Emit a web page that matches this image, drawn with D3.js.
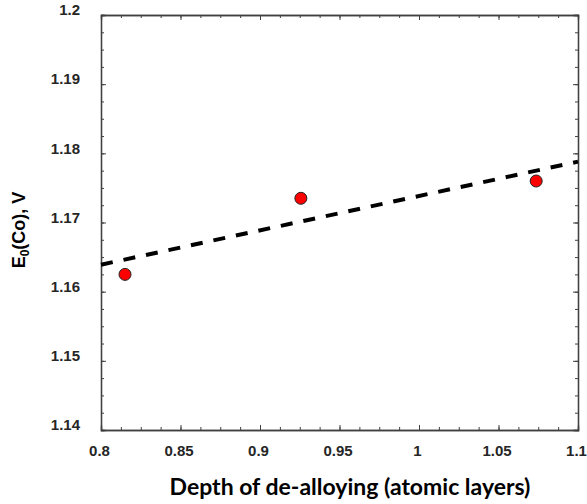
<!DOCTYPE html>
<html>
<head>
<script src="https://d3js.org/d3.v7.min.js"></script>
<style>
  body { margin: 0; background: #fff; }
  svg { display: block; }
  .tick text { font-family: "Liberation Sans", Arial, sans-serif; font-weight: bold; font-size: 15px; fill: #262626; }
</style>
</head>
<body>
<div id="chart"></div>
<script>
// data
var depth = [0.8151, 0.9257, 1.0737];      // de-alloying depth (atomic layers)
var e0 = [1.1625, 1.1735, 1.1760];          // E0(Co), V
var fitX = [0.8, 1.1];                      // linear fit end points
var fitY = [1.1639, 1.1788];
var xTicks = [0.8, 0.85, 0.9, 0.95, 1, 1.05, 1.1];
var yTicks = [1.14, 1.15, 1.16, 1.17, 1.18, 1.19, 1.2];

var width = 587, height = 504;
var margin = {top: 15, right: 9, bottom: 74, left: 101};
var w = width - margin.left - margin.right;
var h = height - margin.top - margin.bottom;

var svg = d3.select("#chart").append("svg")
  .attr("width", width)
  .attr("height", height);

var g = svg.append("g")
  .attr("transform", "translate(" + margin.left + "," + margin.top + ")");

var x = d3.scaleLinear().domain([0.8, 1.1]).range([0, w]);
var y = d3.scaleLinear().domain([1.14, 1.2]).range([h, 0]);

var xMinor = d3.range(0, 25).map(function(i) { return 0.8 + i * 0.0125; });
var yMinor = d3.range(0, 25).map(function(i) { return 1.14 + i * 0.0025; });

var axisColor = "#404040";

function styleAxis(sel) {
  sel.select(".domain").attr("stroke", axisColor).attr("stroke-width", 1.3);
  sel.selectAll(".tick line").attr("stroke", axisColor).attr("stroke-width", 1);
}

// minor ticks, all four sides, pointing inward
g.append("g").attr("transform", "translate(0," + h + ")")
  .call(d3.axisBottom(x).tickValues(xMinor).tickSize(-3).tickFormat(""))
  .call(styleAxis);
g.append("g")
  .call(d3.axisTop(x).tickValues(xMinor).tickSize(-3).tickFormat(""))
  .call(styleAxis);
g.append("g")
  .call(d3.axisLeft(y).tickValues(yMinor).tickSize(-3).tickFormat(""))
  .call(styleAxis);
g.append("g").attr("transform", "translate(" + w + ",0)")
  .call(d3.axisRight(y).tickValues(yMinor).tickSize(-3).tickFormat(""))
  .call(styleAxis);

// major ticks
var xAxis = g.append("g").attr("transform", "translate(0," + h + ")")
  .call(d3.axisBottom(x).tickValues(xTicks).tickSize(-5).tickPadding(15)
    .tickFormat(function(d) { return String(+d.toFixed(2)); }))
  .call(styleAxis);
xAxis.selectAll(".tick text").attr("dx", "-2px");

g.append("g")
  .call(d3.axisTop(x).tickValues(xTicks).tickSize(-5).tickFormat(""))
  .call(styleAxis);

var yAxis = g.append("g")
  .call(d3.axisLeft(y).tickValues(yTicks).tickSize(-5)
    .tickFormat(function(d) { return String(+d.toFixed(2)); }))
  .call(styleAxis);
yAxis.selectAll(".tick text").attr("x", -21).attr("y", -5);

g.append("g").attr("transform", "translate(" + w + ",0)")
  .call(d3.axisRight(y).tickValues(yTicks).tickSize(-5).tickFormat(""))
  .call(styleAxis);

// linear fit, dashed
var line = d3.line()
  .x(function(d) { return x(d[0]); })
  .y(function(d) { return y(d[1]); });

g.append("path")
  .datum(d3.zip(fitX, fitY))
  .attr("d", line)
  .attr("fill", "none")
  .attr("stroke", "#000")
  .attr("stroke-width", 4)
  .attr("stroke-dasharray", "12,11");

// data points
g.selectAll("circle.pt")
  .data(d3.zip(depth, e0))
  .enter()
  .append("circle")
  .attr("class", "pt")
  .attr("cx", function(d) { return x(d[0]); })
  .attr("cy", function(d) { return y(d[1]); })
  .attr("r", 6)
  .attr("fill", "#ff0000")
  .attr("stroke", "#222")
  .attr("stroke-width", 1);

// axis titles
svg.append("text")
  .attr("x", 350)
  .attr("y", 495)
  .attr("text-anchor", "middle")
  .style("font-family", "Lato, 'Open Sans', sans-serif")
  .style("font-weight", "bold")
  .style("font-size", "23px")
  .style("fill", "#000")
  .text("Depth of de-alloying (atomic layers)");

var yTitle = svg.append("text")
  .attr("transform", "translate(25,230) rotate(-90)")
  .attr("text-anchor", "middle")
  .style("font-family", "'Liberation Sans', Arial, sans-serif")
  .style("font-weight", "bold")
  .style("font-size", "18px")
  .style("fill", "#000");
yTitle.append("tspan").text("E");
yTitle.append("tspan").attr("dy", "4").style("font-size", "12px").text("0");
yTitle.append("tspan").attr("dy", "-4").text("(Co), V");
</script>
</body>
</html>
